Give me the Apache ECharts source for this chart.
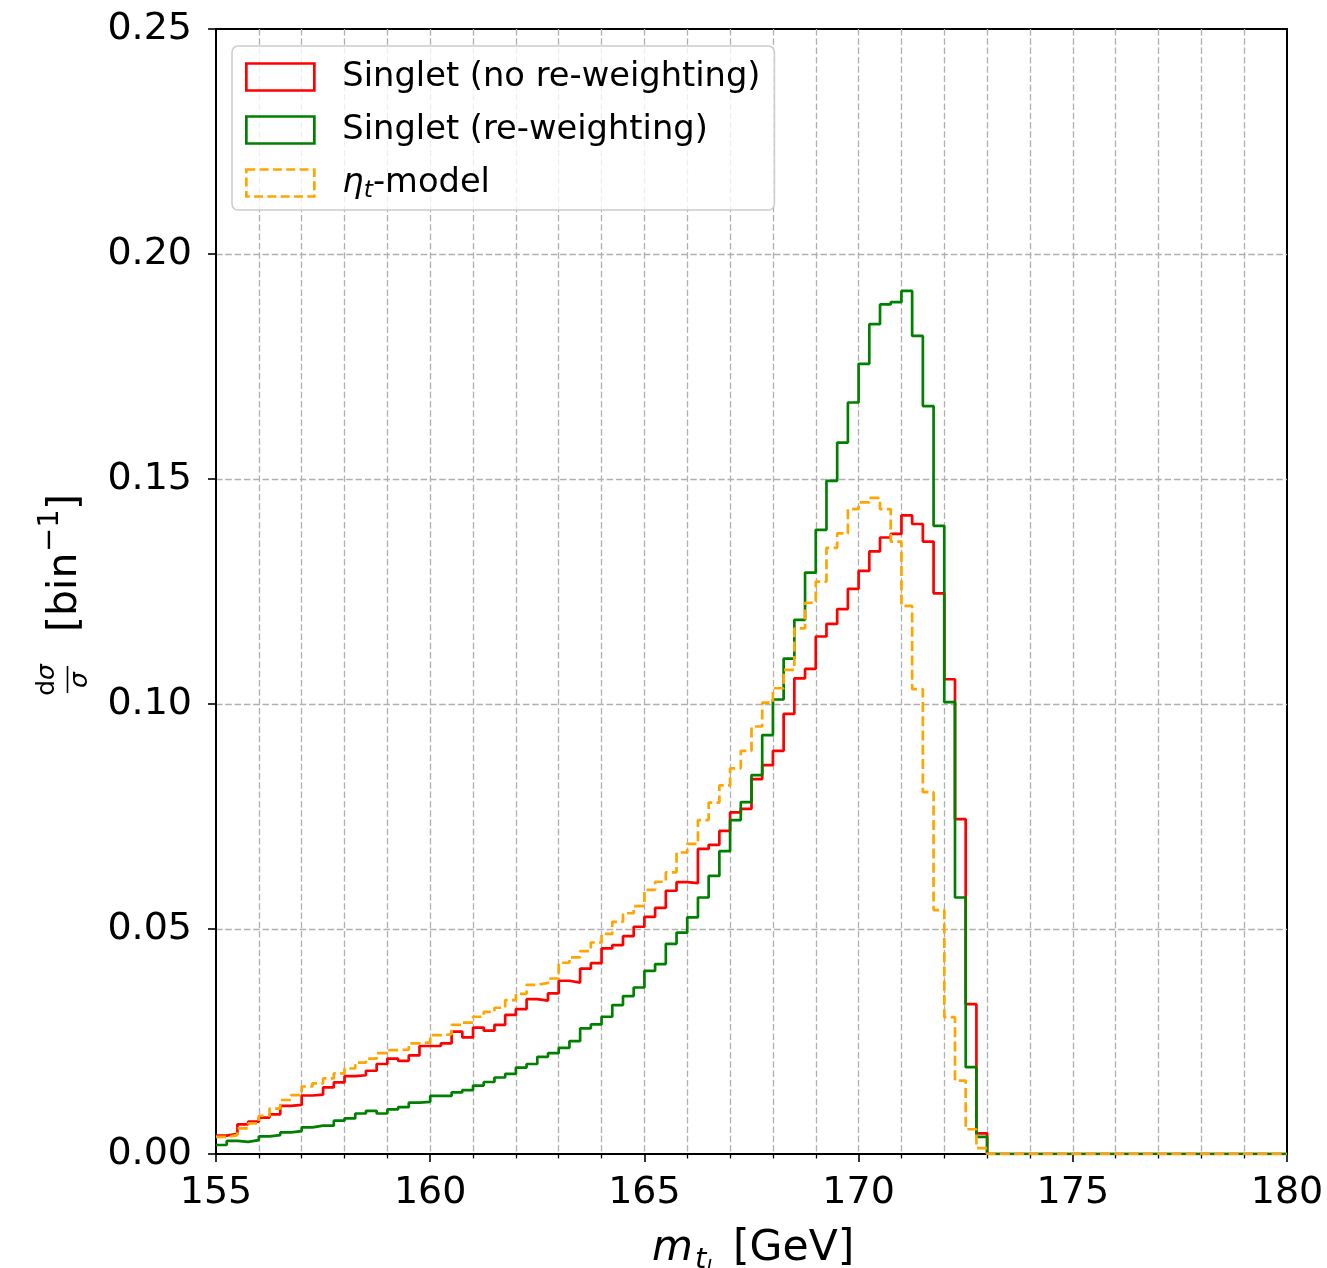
<!DOCTYPE html>
<html>
<head>
<meta charset="utf-8">
<script src="https://cdn.jsdelivr.net/npm/echarts@6/dist/echarts.min.js"></script>
<style>
  html, body { margin: 0; padding: 0; background: #ffffff; }
  #chart { width: 1327px; height: 1268px; }
</style>
</head>
<body>
<div id="chart"></div>
<script>
// Histogram binning of the reconstructed top mass (GeV)
const binStart = 155;
const binWidth = 0.25;
const xRange = [155, 180];
const yRange = [0, 0.25];

// Normalised bin contents, one value per 0.25 GeV bin from 155 to 180 GeV
const singletNoReweight = [
  0.0041, 0.0045, 0.0066, 0.0072, 0.0081, 0.0088, 0.0107, 0.0109, 0.0130, 0.0132,
  0.0148, 0.0159, 0.0173, 0.0175, 0.0185, 0.0200, 0.0212, 0.0207, 0.0219, 0.0240,
  0.0240, 0.0246, 0.0272, 0.0259, 0.0281, 0.0274, 0.0287, 0.0309, 0.0322, 0.0344,
  0.0341, 0.0357, 0.0385, 0.0381, 0.0412, 0.0424, 0.0457, 0.0464, 0.0484, 0.0505,
  0.0527, 0.0547, 0.0585, 0.0604, 0.0602, 0.0678, 0.0687, 0.0718, 0.0759, 0.0767,
  0.0833, 0.0864, 0.0896, 0.0978, 0.1057, 0.1078, 0.1150, 0.1178, 0.1211, 0.1256,
  0.1296, 0.1339, 0.1370, 0.1378, 0.1419, 0.1400, 0.1361, 0.1246, 0.1055, 0.0744,
  0.0333, 0.0046, 0, 0, 0, 0, 0, 0, 0, 0,
  0, 0, 0, 0, 0, 0, 0, 0, 0, 0,
  0, 0, 0, 0, 0, 0, 0, 0, 0, 0
];

const singletReweight = [
  0.0020, 0.0029, 0.0027, 0.0031, 0.0039, 0.0042, 0.0048, 0.0051, 0.0059, 0.0063,
  0.0063, 0.0074, 0.0079, 0.0090, 0.0096, 0.0090, 0.0099, 0.0104, 0.0114, 0.0116,
  0.0129, 0.0129, 0.0137, 0.0142, 0.0152, 0.0160, 0.0170, 0.0178, 0.0192, 0.0200,
  0.0216, 0.0224, 0.0236, 0.0251, 0.0279, 0.0288, 0.0305, 0.0331, 0.0351, 0.0370,
  0.0407, 0.0422, 0.0467, 0.0492, 0.0526, 0.0570, 0.0618, 0.0673, 0.0742, 0.0782,
  0.0842, 0.0931, 0.1010, 0.1101, 0.1187, 0.1292, 0.1387, 0.1496, 0.1581, 0.1670,
  0.1756, 0.1844, 0.1888, 0.1893, 0.1918, 0.1818, 0.1662, 0.1396, 0.1004, 0.0570,
  0.0193, 0.0038, 0, 0, 0, 0, 0, 0, 0, 0,
  0, 0, 0, 0, 0, 0, 0, 0, 0, 0,
  0, 0, 0, 0, 0, 0, 0, 0, 0, 0
];

const etaModel = [
  0.0038, 0.0042, 0.0057, 0.0068, 0.0085, 0.0101, 0.0120, 0.0131, 0.0150, 0.0157,
  0.0168, 0.0179, 0.0190, 0.0203, 0.0212, 0.0224, 0.0231, 0.0232, 0.0246, 0.0248,
  0.0264, 0.0266, 0.0287, 0.0292, 0.0305, 0.0316, 0.0325, 0.0342, 0.0356, 0.0376,
  0.0380, 0.0390, 0.0425, 0.0437, 0.0451, 0.0470, 0.0489, 0.0516, 0.0535, 0.0551,
  0.0587, 0.0605, 0.0626, 0.0670, 0.0689, 0.0742, 0.0781, 0.0819, 0.0857, 0.0896,
  0.0950, 0.1003, 0.1035, 0.1076, 0.1168, 0.1225, 0.1272, 0.1347, 0.1379, 0.1433,
  0.1448, 0.1458, 0.1433, 0.1361, 0.1218, 0.1033, 0.0804, 0.0542, 0.0304, 0.0163,
  0.0055, 0.0013, 0, 0, 0, 0, 0, 0, 0, 0,
  0, 0, 0, 0, 0, 0, 0, 0, 0, 0,
  0, 0, 0, 0, 0, 0, 0, 0, 0, 0
];

const seriesNames = ['Singlet (no re-weighting)', 'Singlet (re-weighting)', 'eta_t-model'];
const seriesColors = ['#ff0000', '#008000', '#ffa500'];

const FONT = 'DejaVu Sans';

// Turn bin contents into step outline points: each bin's left edge, plus the closing right edge
function stepPoints(values) {
  const pts = values.map((v, i) => [binStart + i * binWidth, v]);
  pts.push([binStart + values.length * binWidth, values[values.length - 1]]);
  return pts;
}

function histSeries(name, values, color, dashed) {
  return {
    name: name,
    type: 'line',
    step: 'end',
    data: stepPoints(values),
    showSymbol: false,
    symbol: 'none',
    clip: true,
    animation: false,
    lineStyle: { color: color, width: 2.7, type: dashed ? [10, 4.3] : 'solid' },
    itemStyle: { color: color },
    emphasis: { disabled: true }
  };
}

const gridDash = { color: '#b0b0b0', width: 1.3, type: [6.5, 2.8] };

const chart = echarts.init(document.getElementById('chart'), null, { renderer: 'canvas' });

chart.setOption({
  animation: false,
  backgroundColor: '#ffffff',
  grid: {
    left: 216, top: 29, width: 1071, height: 1125,
    show: true, borderColor: '#000000', borderWidth: 2, backgroundColor: 'transparent'
  },
  xAxis: {
    type: 'value',
    min: xRange[0], max: xRange[1], interval: 5,
    axisLine: { show: true, onZero: false, lineStyle: { color: '#000', width: 2 } },
    axisTick: { show: true, inside: false, length: 8, lineStyle: { color: '#000', width: 1.6 } },
    minorTick: { show: true, splitNumber: 5, length: 4.5, lineStyle: { color: '#000', width: 1.3 } },
    axisLabel: { fontFamily: FONT, fontSize: 38, color: '#000', margin: 20 },
    splitLine: { show: true, showMinLine: false, showMaxLine: false, lineStyle: gridDash },
    minorSplitLine: { show: true, lineStyle: gridDash }
  },
  yAxis: {
    type: 'value',
    min: yRange[0], max: yRange[1], interval: 0.05,
    axisLine: { show: true, onZero: false, lineStyle: { color: '#000', width: 2 } },
    axisTick: { show: true, inside: false, length: 8, lineStyle: { color: '#000', width: 1.6 } },
    axisLabel: {
      fontFamily: FONT, fontSize: 38, color: '#000', margin: 24,
      padding: [13, 0, 0, 0],
      formatter: v => v.toFixed(2)
    },
    splitLine: { show: true, showMinLine: false, showMaxLine: false, lineStyle: gridDash }
  },
  legend: {
    orient: 'vertical',
    left: 232, top: 46,
    padding: [12, 14, 8, 13],
    itemGap: 15,
    itemWidth: 68, itemHeight: 27,
    icon: 'rect',
    selectedMode: false,
    backgroundColor: 'rgba(255,255,255,0.8)',
    borderColor: '#cccccc', borderWidth: 1.5, borderRadius: 6,
    textStyle: {
      fontFamily: FONT, fontSize: 33.7, color: '#000', lineHeight: 38,
      padding: [0, 0, 0, 23],
      rich: {
        eta: { fontFamily: FONT, fontStyle: 'italic', fontSize: 33.7, lineHeight: 38, color: '#000' },
        sub: { fontFamily: FONT, fontStyle: 'italic', fontSize: 23.5, lineHeight: 20, verticalAlign: 'bottom', color: '#000' },
        txt: { fontFamily: FONT, fontSize: 33.7, lineHeight: 38, color: '#000' }
      }
    },
    formatter: name => name === seriesNames[2] ? '{eta|η}{sub|t}{txt|-model}' : name,
    data: [
      { name: seriesNames[0], itemStyle: { color: 'rgba(0,0,0,0)', borderColor: seriesColors[0], borderWidth: 2.7 } },
      { name: seriesNames[1], itemStyle: { color: 'rgba(0,0,0,0)', borderColor: seriesColors[1], borderWidth: 2.7 } },
      { name: seriesNames[2], itemStyle: { color: 'rgba(0,0,0,0)', borderColor: seriesColors[2], borderWidth: 2.7, borderType: [9, 4.3] } }
    ]
  },
  series: [
    histSeries(seriesNames[0], singletNoReweight, seriesColors[0], false),
    histSeries(seriesNames[1], singletReweight, seriesColors[1], false),
    histSeries(seriesNames[2], etaModel, seriesColors[2], true)
  ],
  graphic: [
    // x-axis title: m_{t_l} [GeV]
    { type: 'text', x: 652, y: 1249, z: 10,
      style: { text: 'm', font: 'italic 42px "DejaVu Sans"', fill: '#000', align: 'left', verticalAlign: 'middle', textAlign: 'left', textVerticalAlign: 'middle' } },
    { type: 'text', x: 695, y: 1260, z: 10,
      style: { text: 't', font: 'italic 29px "DejaVu Sans"', fill: '#000', align: 'left', verticalAlign: 'middle', textAlign: 'left', textVerticalAlign: 'middle' } },
    { type: 'text', x: 706, y: 1269, z: 10,
      style: { text: 'l', font: 'italic 20px "DejaVu Sans"', fill: '#000', align: 'left', verticalAlign: 'middle', textAlign: 'left', textVerticalAlign: 'middle' } },
    { type: 'text', x: 733, y: 1249, z: 10,
      style: { text: '[GeV]', font: '42.5px "DejaVu Sans"', fill: '#000', align: 'left', verticalAlign: 'middle', textAlign: 'left', textVerticalAlign: 'middle' } },
    // y-axis title: dσ/σ [bin^-1], reading bottom to top
    { type: 'group', x: 64, y: 592, rotation: Math.PI / 2, z: 10,
      children: [
        { type: 'text', x: -88, y: -16.5, z: 10,
          style: { text: '{r|d}{i|σ}', fill: '#000', align: 'center', verticalAlign: 'middle', textAlign: 'center', textVerticalAlign: 'middle',
            rich: { r: { font: '25px "DejaVu Sans"', fill: '#000' }, i: { font: 'italic 25px "DejaVu Sans"', fill: '#000' } } } },
        { type: 'line', z: 10, shape: { x1: -101, y1: 3.5, x2: -74, y2: 3.5 }, style: { stroke: '#000', lineWidth: 1.6 } },
        { type: 'text', x: -88, y: 16.5, z: 10,
          style: { text: 'σ', font: 'italic 25px "DejaVu Sans"', fill: '#000', align: 'center', verticalAlign: 'middle', textAlign: 'center', textVerticalAlign: 'middle' } },
        { type: 'text', x: -40, y: 1, z: 10,
          style: { text: '[bin', font: '41px "DejaVu Sans"', fill: '#000', align: 'left', verticalAlign: 'middle', textAlign: 'left', textVerticalAlign: 'middle' } },
        { type: 'text', x: 40, y: -13.5, z: 10,
          style: { text: '−1', font: '29px "DejaVu Sans"', fill: '#000', align: 'left', verticalAlign: 'middle', textAlign: 'left', textVerticalAlign: 'middle' } },
        { type: 'text', x: 82, y: 1, z: 10,
          style: { text: ']', font: '41px "DejaVu Sans"', fill: '#000', align: 'left', verticalAlign: 'middle', textAlign: 'left', textVerticalAlign: 'middle' } }
      ]
    }
  ]
});
</script>
</body>
</html>
